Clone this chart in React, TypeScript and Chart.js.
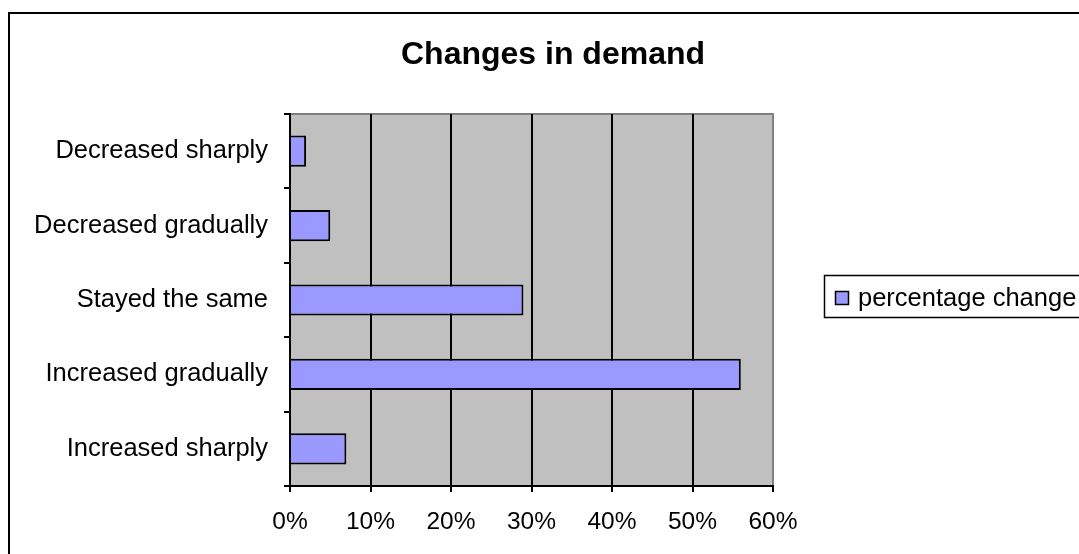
import React, { useEffect, useRef } from "react";
import { Chart, registerables } from "chart.js";

Chart.register(...registerables);

const chartTitle = "Changes in demand";
const seriesName = "percentage change";
const categories = [
  "Decreased sharply",
  "Decreased gradually",
  "Stayed the same",
  "Increased gradually",
  "Increased sharply",
];
const percentValues = [2, 5, 29, 56, 7];
const xTickLabels = ["0%", "10%", "20%", "30%", "40%", "50%", "60%"];

const FONT = "'Liberation Sans', Arial, sans-serif";
const BAR_FILL = "#9999FF";
const PLOT_BG = "#C0C0C0";
const PLOT_EDGE = "#808080";

const decorPlugin = {
  id: "decor",
  beforeDraw(chart: any) {
    const { ctx, chartArea } = chart;
    ctx.save();
    ctx.fillStyle = "#ffffff";
    ctx.fillRect(0, 0, chart.width, chart.height);
    // outer frame (extends beyond the picture at right and bottom)
    ctx.strokeStyle = "#000";
    ctx.lineWidth = 2;
    ctx.strokeRect(9, 13, 1300, 800);
    // plot area background
    ctx.fillStyle = PLOT_BG;
    ctx.fillRect(
      chartArea.left,
      chartArea.top,
      chartArea.right - chartArea.left,
      chartArea.bottom - chartArea.top
    );
    // plot top edge
    ctx.strokeStyle = PLOT_EDGE;
    ctx.lineWidth = 2;
    ctx.beginPath();
    ctx.moveTo(chartArea.left, chartArea.top);
    ctx.lineTo(chartArea.right + 1, chartArea.top);
    ctx.stroke();
    ctx.restore();
  },
  afterDraw(chart: any) {
    const { ctx } = chart;
    ctx.save();
    // title
    ctx.fillStyle = "#000";
    ctx.font = `bold 32px ${FONT}`;
    ctx.textAlign = "center";
    ctx.textBaseline = "alphabetic";
    ctx.fillText(chartTitle, 553, 64);
    // legend
    const ds = chart.data.datasets[0];
    ctx.strokeStyle = "#000";
    ctx.lineWidth = 1.5;
    ctx.strokeRect(824.5, 275.5, 400, 42);
    ctx.fillStyle = ds.backgroundColor;
    ctx.fillRect(835, 291, 14, 14);
    ctx.lineWidth = 1.5;
    ctx.strokeRect(835.5, 291.5, 13, 13);
    ctx.fillStyle = "#000";
    ctx.font = `25.5px ${FONT}`;
    ctx.textAlign = "left";
    ctx.textBaseline = "alphabetic";
    ctx.fillText(ds.label, 858, 306);
    ctx.restore();
  },
};

export default function App() {
  const canvasRef = useRef<HTMLCanvasElement | null>(null);

  useEffect(() => {
    const canvas = canvasRef.current;
    if (!canvas) return;
    const chart = new Chart(canvas, {
      type: "bar",
      data: {
        labels: categories,
        datasets: [
          {
            label: seriesName,
            data: percentValues,
            backgroundColor: BAR_FILL,
            borderColor: "#000",
            borderWidth: 2,
            categoryPercentage: 1,
            barPercentage: 0.42,
          },
        ],
      },
      options: {
        indexAxis: "y",
        animation: false,
        responsive: false,
        devicePixelRatio: 1,
        layout: { padding: { top: 114, right: 306, left: 0, bottom: 0 } },
        plugins: {
          legend: { display: false },
          title: { display: false },
          tooltip: { enabled: false },
        },
        scales: {
          x: {
            min: 0,
            max: 60,
            ticks: {
              stepSize: 10,
              color: "#000",
              padding: 16,
              font: { family: FONT, size: 24.5 },
              callback: (_v: any, i: number) => xTickLabels[i],
            },
            grid: {
              color: (c: any) =>
                c.tick && c.tick.value === 60 ? PLOT_EDGE : "#000",
              tickColor: "#000",
              lineWidth: 2,
              tickLength: 6,
            },
            border: { color: "#000", width: 2 },
            afterFit: (s: any) => {
              s.height = 68;
            },
          },
          y: {
            ticks: {
              color: "#000",
              padding: 16,
              font: { family: FONT, size: 25.5 },
            },
            grid: {
              offset: true,
              drawOnChartArea: false,
              color: "#000",
              lineWidth: 2,
              tickLength: 6,
            },
            border: { color: "#000", width: 2 },
            afterFit: (s: any) => {
              s.width = 290;
            },
          },
        },
      },
      plugins: [decorPlugin],
    } as any);
    return () => chart.destroy();
  }, []);

  return (
    <div
      style={{
        position: "fixed",
        left: 0,
        top: 0,
        width: 1079,
        height: 554,
        overflow: "hidden",
        background: "#fff",
      }}
    >
      <canvas ref={canvasRef} width={1079} height={554} />
    </div>
  );
}
